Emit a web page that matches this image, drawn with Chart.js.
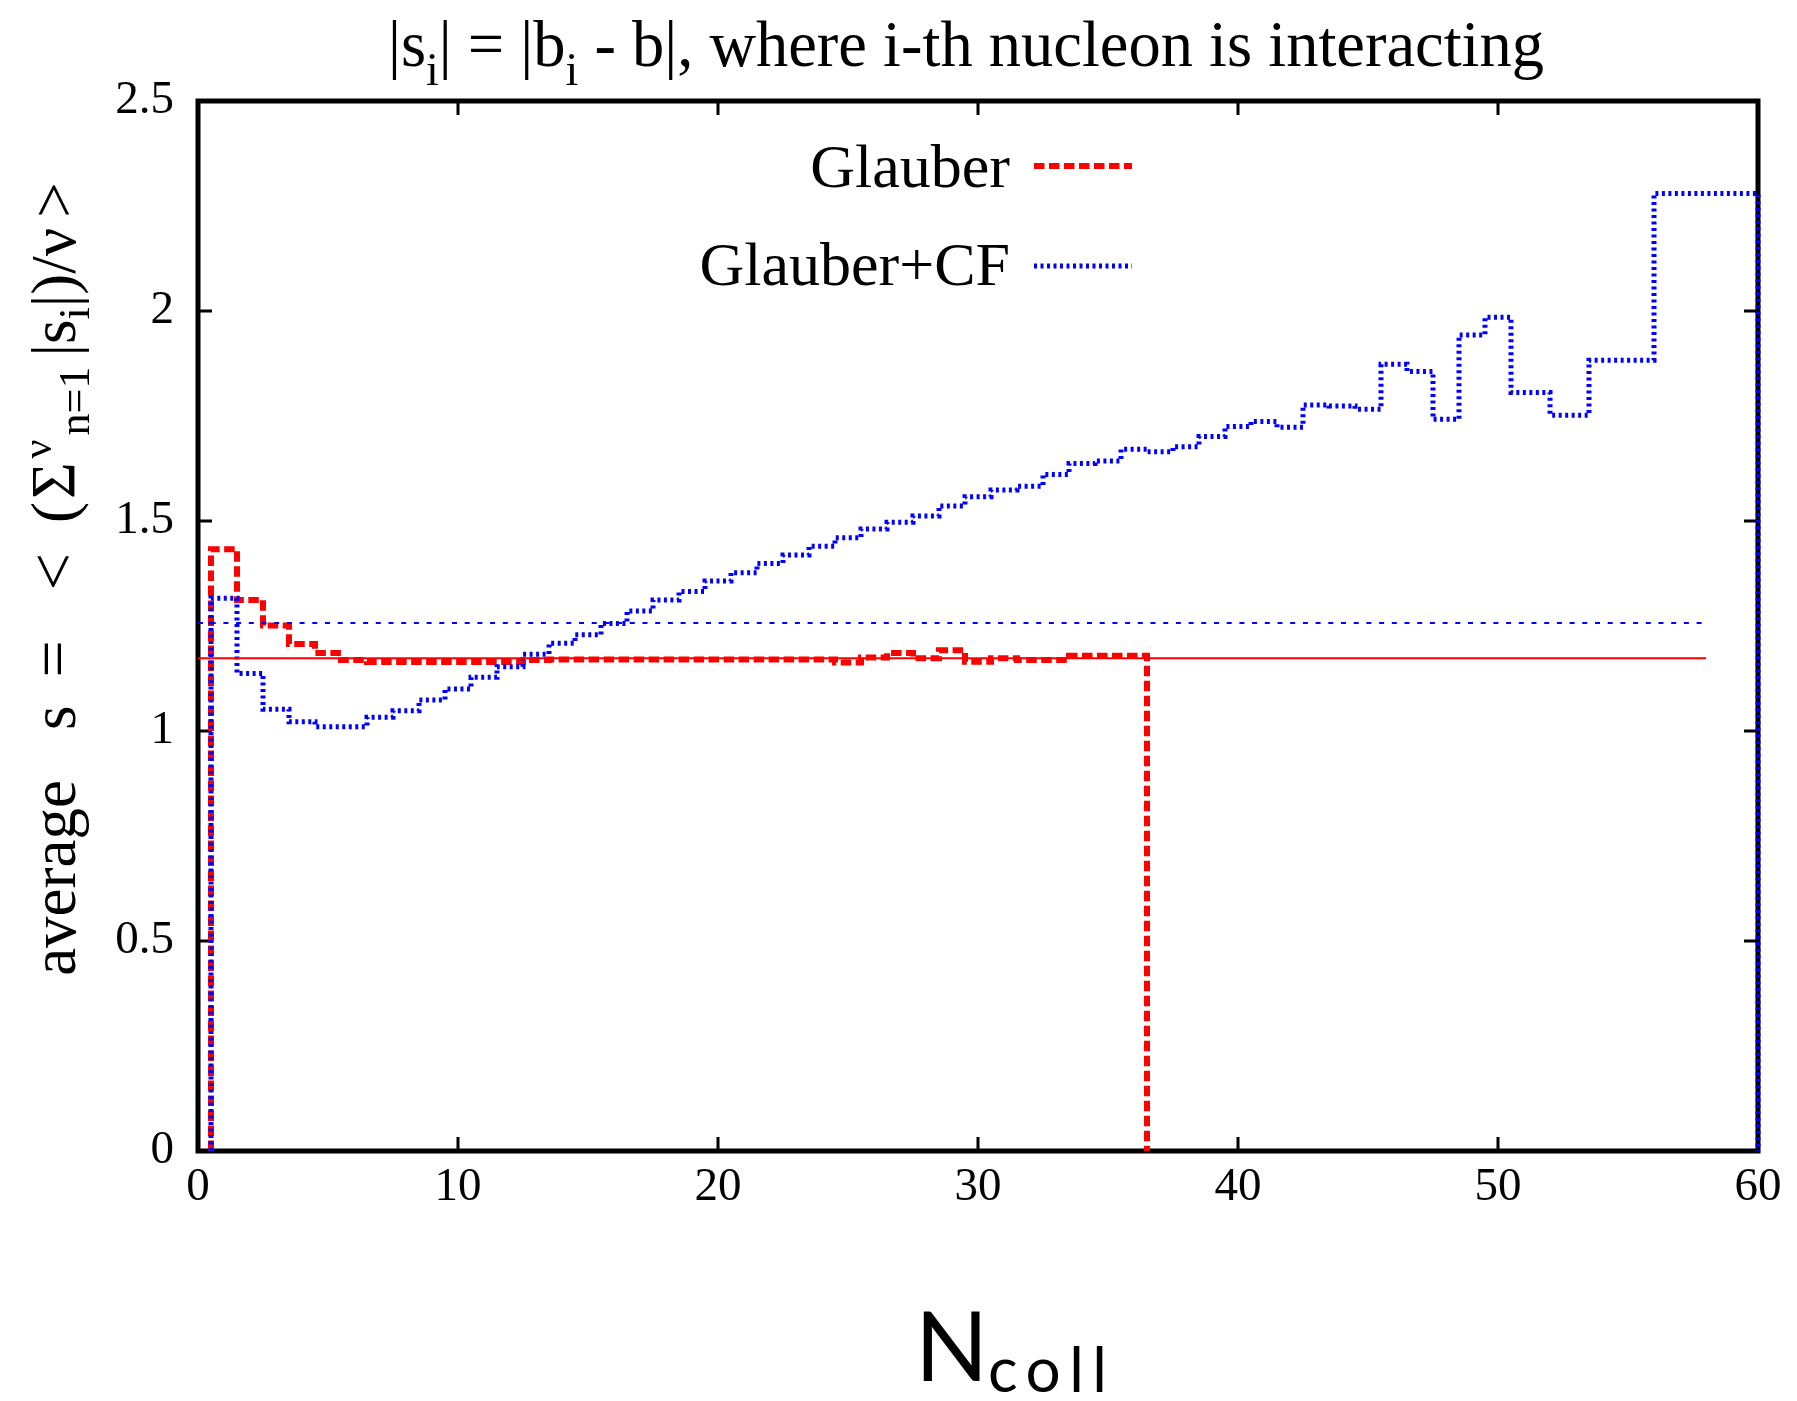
<!DOCTYPE html>
<html><head><meta charset="utf-8">
<script src="https://cdn.jsdelivr.net/npm/chart.js@4.4.1/dist/chart.umd.min.js"></script>
<style>html,body{margin:0;padding:0;background:#fff;}#wrap{width:1797px;height:1401px;position:relative;}</style>
</head><body><div id="wrap"><canvas id="c" width="1797" height="1401"></canvas></div>
<script>
// ---- data ----
const xTicks = [0, 10, 20, 30, 40, 50, 60];
const yTicks = [0, 0.5, 1, 1.5, 2, 2.5];
const seriesLabels = ['Glauber', 'Glauber+CF'];

const glauberN = [1,2,3,4,5,6,7,8,9,10,11,12,13,14,15,16,17,18,19,20,21,22,23,24,25,26,27,28,29,30,31,32,33,34,35,36];
const glauberS = [1.433,1.312,1.251,1.207,1.186,1.169,1.164,1.164,1.164,1.164,1.164,1.164,1.169,1.170,1.170,1.170,1.170,1.170,1.170,1.170,1.170,1.170,1.170,1.170,1.163,1.175,1.186,1.173,1.192,1.165,1.173,1.169,1.169,1.179,1.179,1.179];

const cfN = [1,2,3,4,5,6,7,8,9,10,11,12,13,14,15,16,17,18,19,20,21,22,23,24,25,26,27,28,29,30,31,32,33,34,35,36,37,38,39,40,41,42,43,44,45,46,47,48,49,50,51,53,54,58];
const cfS = [1.316,1.137,1.052,1.022,1.010,1.010,1.033,1.048,1.074,1.100,1.128,1.153,1.183,1.209,1.229,1.256,1.286,1.312,1.332,1.357,1.377,1.399,1.419,1.440,1.460,1.481,1.497,1.512,1.536,1.558,1.574,1.583,1.611,1.637,1.643,1.671,1.665,1.677,1.701,1.725,1.737,1.723,1.776,1.774,1.766,1.873,1.856,1.742,1.943,1.985,1.806,1.752,1.883,2.280];

const glauberMean = 1.173;
const cfMean = 1.257;
const meanRange = [0, 58];

// ---- helpers ----
function histeps(xs, ys) {
  const n = xs.length, pts = [];
  const edges = [];
  edges.push(xs[0] - (xs[1] - xs[0]) / 2);
  for (let i = 1; i < n; i++) edges.push((xs[i - 1] + xs[i]) / 2);
  edges.push(xs[n - 1] + (xs[n - 1] - xs[n - 2]) / 2);
  pts.push({x: edges[0], y: 0});
  for (let i = 0; i < n; i++) {
    pts.push({x: edges[i], y: ys[i]});
    pts.push({x: edges[i + 1], y: ys[i]});
  }
  pts.push({x: edges[n], y: 0});
  return pts;
}
const SERIF = '"Liberation Serif", "Times New Roman", serif';
function setFont(ctx, p) {
  ctx.font = p.size + 'px ' + (p.family || SERIF);
  ctx.letterSpacing = (p.ls || 0) + 'px';
}
function richWidth(ctx, parts) {
  let w = 0;
  for (const p of parts) { setFont(ctx, p); w += (p.gap || 0) + ctx.measureText(p.t).width; }
  ctx.letterSpacing = '0px';
  return w;
}
function drawRich(ctx, parts, x, y) {
  let cx = x;
  for (const p of parts) {
    setFont(ctx, p);
    cx += (p.gap || 0);
    ctx.fillText(p.t, cx, y + (p.dy || 0));
    cx += ctx.measureText(p.t).width;
  }
  ctx.letterSpacing = '0px';
}

const styles = {
  g: {color: '#ff0000', width: 6, dash: [10.5, 4.5]},
  cf: {color: '#0000ff', width: 5, dash: [3, 3.5]}
};

const decorPlugin = {
  id: 'decor',
  beforeDatasetsDraw(chart) {
    const ctx = chart.ctx, a = chart.chartArea;
    const xs = chart.scales.x, ys = chart.scales.y;
    ctx.save();
    ctx.strokeStyle = '#000';
    ctx.lineWidth = 5;
    ctx.strokeRect(a.left, a.top, a.right - a.left, a.bottom - a.top);
    ctx.lineWidth = 3;
    const tl = 14;
    ctx.beginPath();
    for (const v of xTicks) {
      const px = xs.getPixelForValue(v);
      ctx.moveTo(px, a.bottom); ctx.lineTo(px, a.bottom - tl);
      ctx.moveTo(px, a.top); ctx.lineTo(px, a.top + tl);
    }
    for (const v of yTicks) {
      const py = ys.getPixelForValue(v);
      ctx.moveTo(a.left, py); ctx.lineTo(a.left + tl, py);
      ctx.moveTo(a.right, py); ctx.lineTo(a.right - tl, py);
    }
    ctx.stroke();
    ctx.restore();
  },
  afterDraw(chart) {
    const ctx = chart.ctx;
    ctx.save();
    ctx.fillStyle = '#000';
    ctx.textBaseline = 'alphabetic';
    ctx.textAlign = 'left';
    // title
    const title = [
      {t: '|s', size: 64.5}, {t: 'i', size: 46, dy: 19}, {t: '| = |b', size: 64.5}, {t: 'i', size: 46, dy: 19},
      {t: ' - b|, where i-th nucleon is interacting', size: 64.5}
    ];
    const tw = richWidth(ctx, title);
    drawRich(ctx, title, 966 - tw / 2, 66);
    // y axis title (rotated)
    const ytitle = [
      {t: 'average', size: 63}, {t: 's', size: 63, gap: 50}, {t: '=', size: 66, gap: 28}, {t: '<', size: 66, gap: 50},
      {t: '(', size: 63, gap: 30}, {t: '\u03A3', size: 63, gap: 3}, {t: '\u03BD', size: 42, dy: -24, gap: 4},
      {t: 'n=1', size: 44, dy: 14, gap: 4}, {t: '|s', size: 63, gap: 10}, {t: 'i', size: 44, dy: 14},
      {t: '|)/\u03BD', size: 63}, {t: '>', size: 63, gap: 10}
    ];
    const yw = richWidth(ctx, ytitle);
    ctx.save();
    ctx.translate(75, 579);
    ctx.rotate(-Math.PI / 2);
    drawRich(ctx, ytitle, -yw / 2, 0);
    ctx.restore();
    // x axis title
    const SANS = 'Lato, "Open Sans", sans-serif';
    ctx.font = '96px ' + SANS;
    ctx.fillText('N', 915, 1381);
    ctx.font = '62px ' + SANS;
    const cw = ctx.measureText('coll').width;
    const ls = Math.max(0, (119 - cw) / 3);
    ctx.letterSpacing = ls + 'px';
    ctx.fillText('coll', 988, 1392);
    ctx.letterSpacing = '0px';
    // legend
    const ds = chart.data.datasets;
    const rows = [{label: ds[0].label, st: styles.g, y: 187, ly: 166}, {label: ds[1].label, st: styles.cf, y: 285, ly: 266}];
    ctx.textAlign = 'right';
    ctx.font = '62px ' + SERIF;
    for (const r of rows) {
      ctx.fillText(r.label, 1010, r.y);
      ctx.save();
      ctx.strokeStyle = r.st.color; ctx.lineWidth = r.st.width; ctx.setLineDash(r.st.dash);
      ctx.beginPath(); ctx.moveTo(1034, r.ly); ctx.lineTo(1132, r.ly); ctx.stroke();
      ctx.restore();
    }
    ctx.restore();
  }
};

const tickFont = {family: SERIF, size: 47};
new Chart(document.getElementById('c'), {
  type: 'scatter',
  data: {
    datasets: [
      {label: seriesLabels[0], data: histeps(glauberN, glauberS), showLine: true, pointRadius: 0,
       borderColor: styles.g.color, borderWidth: styles.g.width, borderDash: styles.g.dash, tension: 0, order: 4, clip: 8},
      {label: seriesLabels[1], data: histeps(cfN, cfS), showLine: true, pointRadius: 0,
       borderColor: styles.cf.color, borderWidth: styles.cf.width, borderDash: styles.cf.dash, tension: 0, order: 3, clip: 8},
      {label: 'mean Glauber', data: [{x: meanRange[0], y: glauberMean}, {x: meanRange[1], y: glauberMean}], showLine: true, pointRadius: 0,
       borderColor: '#ff0000', borderWidth: 2, order: 2},
      {label: 'mean Glauber+CF', data: [{x: meanRange[0], y: cfMean}, {x: meanRange[1], y: cfMean}], showLine: true, pointRadius: 0,
       borderColor: '#0000ff', borderWidth: 2, borderDash: [5, 7.7], order: 1}
    ]
  },
  options: {
    responsive: false,
    animation: false,
    events: [],
    layout: {padding: {top: 101, right: 39, left: 0, bottom: 0}},
    plugins: {legend: {display: false}, tooltip: {enabled: false}, title: {display: false}},
    scales: {
      x: {type: 'linear', min: 0, max: 60,
          afterFit(s) { s.height = 250; },
          afterBuildTicks(s) { s.ticks = xTicks.map(v => ({value: v})); },
          grid: {display: false, drawTicks: false}, border: {display: false},
          ticks: {font: tickFont, color: '#000', padding: 8, maxRotation: 0, autoSkip: false, callback: v => String(v)}},
      y: {type: 'linear', min: 0, max: 2.5,
          afterFit(s) { s.width = 198; },
          afterBuildTicks(s) { s.ticks = yTicks.map(v => ({value: v})); },
          grid: {display: false, drawTicks: false}, border: {display: false},
          ticks: {font: tickFont, color: '#000', padding: 24, autoSkip: false, callback: v => String(v)}}
    }
  },
  plugins: [decorPlugin]
});
</script></body></html>
